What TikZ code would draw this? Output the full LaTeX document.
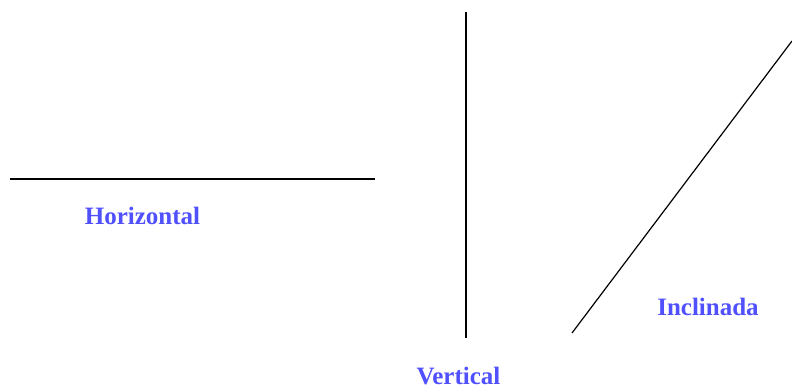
\documentclass[tikz,border=0pt]{standalone}
\usepackage{fontspec}
\setmainfont{Liberation Serif}
\definecolor{lbl}{HTML}{5050FF}
\begin{document}
\begin{tikzpicture}[x=1pt,y=-1pt,
  lbltext/.style={text=lbl,font=\fontsize{25}{25}\selectfont\bfseries,inner sep=0pt,anchor=center},
  seg/.style={draw=black,line width=2pt},
  thinseg/.style={draw=black,line width=1.2pt}]
\useasboundingbox[fill=white] (0,0) rectangle (792,390);
\coordinate (h1) at (10,179.5);
\coordinate (h2) at (375,179.5);
\coordinate (v1) at (465.5,12);
\coordinate (v2) at (465.5,338);
\coordinate (i1) at (572,333);
\coordinate (i2) at (792,41);
\draw[seg] (h1) -- (h2);
\draw[seg] (v1) -- (v2);
\draw[thinseg] (i1) -- (i2);
\node[lbltext] (th) at (142.5,216) {Horizontal};
\node[lbltext] (tv) at (458.5,376) {Vertical};
\node[lbltext] (ti) at (708,306.5) {Inclinada};
\end{tikzpicture}
\end{document}
